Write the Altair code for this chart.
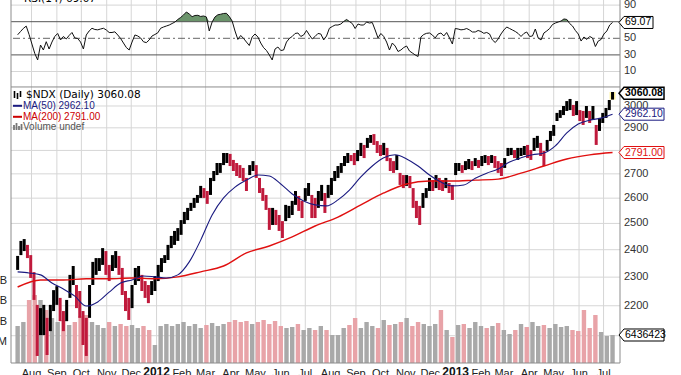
import altair as alt
import numpy as np
import pandas as pd

W, H = 609, 363

# ---------------- data ----------------
start = "2011-07-15"
# price bars: one bar every 4 calendar days (high / low)
price_high = [2377, 2433, 2440, 2418, 2380, 2318, 2203, 2192, 2203, 2159,
              2203, 2254, 2268, 2227, 2182, 2220, 2308, 2340, 2272, 2251,
              2182, 2159, 2272, 2355, 2369, 2369, 2406, 2395, 2344, 2380,
              2395, 2377, 2333, 2251, 2227, 2272, 2333, 2340, 2308, 2286,
              2272, 2286, 2304, 2344, 2369, 2380, 2418, 2452, 2471, 2482,
              2513, 2545, 2561, 2581, 2601, 2613, 2650, 2641, 2629, 2683,
              2712, 2746, 2746, 2789, 2789, 2785, 2759, 2746, 2737, 2725,
              2683, 2737, 2754, 2737, 2683, 2641, 2613, 2561, 2561, 2553,
              2533, 2509, 2573, 2569, 2589, 2629, 2609, 2589, 2641, 2662,
              2613, 2601, 2629, 2654, 2621, 2654, 2683, 2712, 2733, 2746,
              2776, 2789, 2780, 2789, 2802, 2833, 2824, 2855, 2868, 2872,
              2841, 2824, 2833, 2811, 2767, 2754, 2780, 2704, 2695, 2695,
              2691, 2641, 2589, 2569, 2621, 2641, 2683, 2674, 2695, 2683,
              2674, 2683, 2662, 2654, 2746, 2746, 2737, 2754, 2763, 2754,
              2767, 2759, 2776, 2780, 2776, 2780, 2776, 2754, 2746, 2767,
              2811, 2811, 2802, 2811, 2811, 2819, 2824, 2802, 2855, 2864,
              2833, 2798, 2846, 2886, 2913, 2968, 2981, 3000, 3023, 3033,
              3005, 3023, 2981, 2977, 3000, 2977, 3000, 2913, 2945, 2968,
              2991, 3028, 3066]
price_low = [2326, 2380, 2395, 2369, 2297, 2220, 2035, 2102, 2102, 2038,
             2115, 2182, 2203, 2148, 2115, 2148, 2227, 2272, 2192, 2159,
             2070, 2035, 2159, 2272, 2308, 2322, 2344, 2308, 2286, 2322,
             2333, 2308, 2237, 2182, 2152, 2192, 2272, 2286, 2251, 2227,
             2209, 2237, 2251, 2286, 2318, 2351, 2362, 2406, 2418, 2433,
             2456, 2498, 2513, 2549, 2561, 2581, 2601, 2601, 2577, 2613,
             2670, 2695, 2704, 2737, 2746, 2733, 2712, 2691, 2683, 2670,
             2629, 2695, 2712, 2683, 2621, 2589, 2553, 2475, 2494, 2494,
             2471, 2444, 2509, 2521, 2533, 2573, 2549, 2521, 2589, 2609,
             2521, 2521, 2561, 2589, 2541, 2601, 2613, 2670, 2683, 2704,
             2733, 2746, 2754, 2737, 2754, 2776, 2767, 2811, 2833, 2824,
             2789, 2776, 2780, 2754, 2712, 2704, 2716, 2654, 2641, 2650,
             2641, 2561, 2521, 2494, 2561, 2601, 2629, 2629, 2641, 2633,
             2629, 2641, 2621, 2593, 2695, 2712, 2704, 2716, 2720, 2716,
             2733, 2725, 2733, 2746, 2737, 2746, 2725, 2704, 2691, 2725,
             2776, 2780, 2767, 2759, 2776, 2780, 2767, 2759, 2798, 2811,
             2776, 2733, 2798, 2841, 2864, 2931, 2945, 2958, 2977, 2981,
             2954, 2958, 2931, 2913, 2945, 2922, 2936, 2824, 2886, 2922,
             2945, 2981, 3030]
# volume: one bar per week (millions)
volume_m = [898, 995, 1530, 1651, 1530, 1287, 1093, 995, 1044, 923,
            995, 1141, 1165, 995, 923, 850, 995, 898, 947, 898,
            923, 850, 898, 801, 437, 898, 947, 898, 947, 995,
            898, 947, 850, 923, 971, 898, 947, 995, 1044, 995,
            1020, 947, 995, 1044, 947, 1020, 898, 850, 874, 947,
            801, 850, 801, 898, 801, 680, 680, 850, 923, 1093,
            850, 995, 898, 850, 1044, 923, 947, 995, 1093, 898,
            995, 947, 898, 947, 1287, 801, 631, 923, 947, 850,
            995, 898, 850, 898, 971, 801, 704, 801, 947, 874,
            995, 898, 923, 850, 947, 874, 898, 801, 777, 1287,
            850, 1165, 753, 656, 680]
ma50 = [2319, 2315, 2308, 2279, 2258, 2233, 2199, 2213, 2247, 2279,
        2290, 2304, 2301, 2297, 2308, 2355, 2436, 2533, 2601, 2645,
        2674, 2695, 2691, 2658, 2617, 2589, 2573, 2569, 2593, 2633,
        2687, 2733, 2768, 2781, 2763, 2733, 2695, 2666, 2650, 2654,
        2682, 2703, 2720, 2750, 2768, 2781, 2789, 2820, 2877, 2917,
        2935, 2944, 2962.1]  # every 2 weeks
ma200 = [2265, 2290, 2290, 2294, 2294, 2297, 2294, 2301, 2319, 2340,
         2388, 2414, 2448, 2490, 2525, 2573, 2621, 2658, 2670, 2670,
         2674, 2678, 2703, 2733, 2763, 2781, 2791]  # every 4 weeks
rsi14 = [54.2, 58.1, 61.9, 64.7, 54.6, 43.1, 31.7, 23.9, 41.9, 35.9,
         45.9, 37.1, 45.5, 52.3, 55.8, 48.0, 52.2, 49.2, 53.4, 57.0,
         50.4, 49.8, 45.5, 37.1, 54.0, 58.8, 62.1, 60.6, 60.2, 61.2,
         62.1, 60.0, 57.0, 57.0, 57.8, 54.0, 49.8, 44.3, 38.9, 35.9,
         45.5, 54.0, 52.8, 50.4, 45.8, 44.8, 48.0, 52.8, 54.6, 56.6,
         62.1, 63.6, 64.8, 66.0, 67.8, 69.6, 72.7, 75.1, 78.1, 81.7,
         79.3, 76.0, 77.5, 77.7, 76.3, 76.9, 75.7, 58.8, 69.6, 75.7,
         78.3, 79.0, 79.9, 80.1, 76.3, 70.8, 58.8, 48.6, 53.4, 49.8,
         45.5, 41.3, 51.6, 55.2, 51.6, 44.3, 38.7, 35.3, 29.9, 23.9,
         37.1, 39.5, 35.3, 35.9, 45.5, 49.8, 52.2, 55.8, 56.4, 52.2,
         54.0, 59.4, 54.0, 49.2, 52.2, 55.8, 55.2, 48.0, 52.8, 62.1,
         64.2, 66.0, 66.0, 67.2, 70.2, 72.7, 70.2, 67.8, 61.8, 67.2,
         66.0, 66.0, 69.6, 68.4, 69.0, 60.0, 50.4, 55.8, 52.2, 45.5,
         35.9, 44.3, 40.7, 34.1, 35.9, 38.9, 40.7, 34.7, 32.3, 29.9,
         28.1, 51.6, 54.6, 56.0, 56.4, 54.0, 50.4, 55.2, 56.4, 52.8,
         57.0, 50.4, 43.1, 61.8, 61.2, 60.2, 60.6, 61.8, 60.0, 57.6,
         57.6, 59.4, 58.2, 56.0, 57.0, 55.2, 48.0, 44.9, 49.2, 55.2,
         60.0, 63.6, 61.8, 60.0, 58.2, 55.8, 52.2, 55.8, 57.6, 52.2,
         52.8, 61.2, 50.4, 48.0, 56.4, 58.8, 61.8, 66.6, 68.4, 69.6,
         70.8, 73.3, 72.7, 67.8, 64.8, 59.4, 55.2, 46.7, 51.6, 48.6,
         52.2, 50.4, 40.1, 46.7, 48.6, 55.2, 58.8, 66.0, 69.07]  # every 3.5 days

last_close, last_ma50, last_ma200, last_rsi = 3060.08, 2962.10, 2791.00, 69.07
last_volume_text = "6436423"

price_ticks = [2100, 2200, 2300, 2400, 2500, 2600, 2700, 2800, 2900, 3000]
price_hidden = [2100, 2800]          # hidden behind the value tags
rsi_ticks = [10, 30, 50, 90]         # 70 is hidden behind the RSI tag
rsi_grid_ticks = [10, 90]
rsi_bands = [70, 30]
rsi_mid = [50]
volume_ticks = [500, 1000, 1500, 2000]
month_ticks = ([(2011, m) for m in range(8, 13)] + [(2012, m) for m in range(1, 13)]
               + [(2013, m) for m in range(1, 8)])
x_range = [(2011, 7, 13), (2013, 7, 15)]

PRICE_DOMAIN = [2012.9, 3536.7]
RSI_DOMAIN = [-341.2, 96.14]
VOL_DOMAIN = [0, 8814]
MAIN_TOP = 3090

# ---------------- frames ----------------
fmt = "%Y-%m-%dT%H:%M:%S"
d4 = pd.date_range(start, periods=len(price_high), freq="4D")
px = pd.DataFrame({"date": d4.strftime(fmt), "high": price_high, "low": price_low})
mid = (px["high"] + px["low"]) / 2
up4 = (mid.diff().fillna(0) >= 0).to_numpy()
UP, DOWN = "#000000", "#c01a3c"
px["pcol"] = np.where(up4, UP, DOWN)

weeks = pd.date_range(start, periods=len(volume_m), freq="7D")
vol = pd.DataFrame({"date": weeks.strftime(fmt), "vol": volume_m})
near = np.clip(np.round(np.arange(len(volume_m)) * 7 / 4).astype(int), 0, len(up4) - 1)
vol["vcol"] = np.where(up4[near], "#a9a9a9", "#e8a3a8")

ma50_df = pd.DataFrame({"date": weeks[::2].strftime(fmt), "v": ma50})
ma200_df = pd.DataFrame({"date": weeks[::4].strftime(fmt), "v": ma200})
rsi_dates = pd.date_range(start, periods=len(rsi14), freq="84h")
rsi_df = pd.DataFrame({"date": rsi_dates.strftime(fmt), "v": rsi14})
rsi_df["top"] = np.maximum(rsi_df["v"], 70)
rsi_df["base"] = 70
one = pd.DataFrame({"k": [0]})

month_df = pd.DataFrame({
    "date": [f"{y}-{m:02d}-01T00:00:00" for y, m in month_ticks],
    "lab": [str(y) if m == 1 else pd.Timestamp(y, m, 1).strftime("%b") for y, m in month_ticks],
    "year": [m == 1 for y, m in month_ticks],
})
price_lab_df = pd.DataFrame({"v": [t for t in price_ticks if t not in price_hidden]})
price_lab_df["lab"] = price_lab_df["v"].astype(str)
rsi_lab_df = pd.DataFrame({"v": rsi_ticks, "lab": [str(t) for t in rsi_ticks]})
vol_lab_df = pd.DataFrame({"v": volume_ticks,
                           "lab": [f"{t}M" if t < 1000 else f"{t / 1000:.1f}B" for t in volume_ticks]})

FONT = "Liberation Sans"
GRID = "#d6d6d6"
BORDER = "#8c8c8c"
NAVY, RED = "#1a1a80", "#e01010"

xs = alt.Scale(domain=[alt.DateTime(year=a, month=b, date=c) for a, b, c in x_range], nice=False)
ps = alt.Scale(type="log", domain=PRICE_DOMAIN, nice=False)
rs = alt.Scale(domain=RSI_DOMAIN, nice=False, zero=False)
vs = alt.Scale(domain=VOL_DOMAIN, nice=False)

X = alt.X("date:T", scale=xs, axis=None)
YP = alt.Y("v:Q", scale=ps, axis=None)
YR = alt.Y("v:Q", scale=rs, axis=None)
YV = alt.Y("v:Q", scale=vs, axis=None)

# ---------------- grid ----------------
month_grid = alt.Chart(month_df).mark_rule(color=GRID).encode(
    x=X, y=alt.value(0), y2=alt.value(H))
price_grid = alt.Chart(pd.DataFrame({"v": price_ticks})).mark_rule(color=GRID).encode(y=YP)
rsi_grid = alt.Chart(pd.DataFrame({"v": rsi_grid_ticks})).mark_rule(color=GRID).encode(y=YR)

# ---------------- volume ----------------
vol_bars = alt.Chart(vol).mark_bar(width=4.4).encode(
    x=X, y=alt.Y("vol:Q", scale=vs, axis=None), color=alt.Color("vcol:N", scale=None))

# ---------------- RSI ----------------
rsi_fill = alt.Chart(rsi_df).mark_area(color="#6b946b").encode(
    x=X, y=alt.Y("top:Q", scale=rs, axis=None), y2="base:Q")
rsi_rules = alt.Chart(pd.DataFrame({"v": rsi_bands})).mark_rule(color="#555", strokeWidth=1).encode(y=YR)
rsi_mid_rule = alt.Chart(pd.DataFrame({"v": rsi_mid})).mark_rule(
    color="#666", strokeWidth=1, strokeDash=[7, 3, 2, 3]).encode(y=YR)
rsi_line = alt.Chart(rsi_df).mark_line(color="#111", strokeWidth=1).encode(x=X, y=YR)

# ---------------- price ----------------
last_bar = alt.Chart(px.tail(1)).mark_bar(width=6, color="#fff3a0").encode(
    x=X, y=alt.Y("high:Q", scale=ps, axis=None), y2="low:Q")
bars = alt.Chart(px).mark_bar(width=3.0).encode(
    x=X, y=alt.Y("high:Q", scale=ps, axis=None), y2="low:Q", color=alt.Color("pcol:N", scale=None))
line200 = alt.Chart(ma200_df).mark_line(color=RED, strokeWidth=1.4, interpolate="monotone").encode(x=X, y=YP)
line50 = alt.Chart(ma50_df).mark_line(color=NAVY, strokeWidth=1.1, interpolate="monotone").encode(x=X, y=YP)

# ---------------- frame lines ----------------
top_rule = alt.Chart(pd.DataFrame({"v": [MAIN_TOP]})).mark_rule(color=BORDER).encode(y=YP)
left_border = alt.Chart(one).mark_rule(color=BORDER).encode(x=alt.value(0), y=alt.value(0), y2=alt.value(H))
right_border = alt.Chart(one).mark_rule(color=BORDER).encode(x=alt.value(W), y=alt.value(0), y2=alt.value(H))
bottom_border = alt.Chart(one).mark_rule(color=BORDER).encode(x=alt.value(0), x2=alt.value(W), y=alt.value(H))

# ---------------- tick labels ----------------
month_labels = alt.Chart(month_df[~month_df["year"]]).mark_text(
    baseline="top", align="center", font=FONT, fontSize=11, color="#222").encode(
    x=X, y=alt.value(H + 5), text="lab:N")
year_labels = alt.Chart(month_df[month_df["year"]]).mark_text(
    baseline="top", align="center", font=FONT, fontSize=12, fontWeight="bold", color="#111").encode(
    x=X, y=alt.value(H + 4), text="lab:N")
price_labels = alt.Chart(price_lab_df).mark_text(
    align="left", baseline="middle", font=FONT, fontSize=11, color="#333").encode(
    x=alt.value(W + 4), y=YP, text="lab:N")
rsi_labels = alt.Chart(rsi_lab_df).mark_text(
    align="left", baseline="middle", font=FONT, fontSize=11, color="#333").encode(
    x=alt.value(W + 4), y=YR, text="lab:N")
vol_labels = alt.Chart(vol_lab_df).mark_text(
    align="right", baseline="middle", font=FONT, fontSize=11, color="#222").encode(
    x=alt.value(-4), y=YV, text="lab:N")


def tag(value, y, w, h, color, text, bold=False, sw=1.0, fs=10.5):
    s = 2.0 / w
    hh = h / 2 * s
    ax = -1 + 5 * s
    path = f"M-1,0L{ax:.3f},{-hh:.3f}L1,{-hh:.3f}L1,{hh:.3f}L{ax:.3f},{hh:.3f}Z"
    df = pd.DataFrame({"v": [value]})
    box = alt.Chart(df).mark_point(shape=path, size=w * w, filled=True, fill="white",
                                   stroke=color, strokeWidth=sw, opacity=1).encode(
        x=alt.value(W - 1 + w / 2), y=y)
    txt = alt.Chart(df).mark_text(align="left", baseline="middle", font=FONT, fontSize=fs,
                                  fontWeight="bold" if bold else "normal", color=color).encode(
        x=alt.value(W + 5), y=y, text=alt.value(text))
    return [box, txt]


tags = (tag(volume_m[-1], YV, 45, 12, "black", last_volume_text)
        + tag(last_ma200, YP, 45, 12, RED, "2791.00")
        + tag(last_ma50, YP, 45, 12, NAVY, "2962.10")
        + tag(last_close, YP, 45, 12, "black", "3060.08", bold=True, sw=1.5)
        + tag(last_rsi, YR, 34, 12, "black", "69.07"))


# ---------------- legend / titles ----------------
def label(text, x, y, color="black", font=FONT, size=10.5, baseline="middle"):
    return alt.Chart(one).mark_text(align="left", baseline=baseline, font=font, fontSize=size,
                                    color=color).encode(
        x=alt.value(x), y=alt.value(y), text=alt.value(text))


def glyph(x, y1, y2, color, width):
    return alt.Chart(one).mark_rule(color=color, strokeWidth=width).encode(
        x=alt.value(x), y=alt.value(y1), y2=alt.value(y2))


def dash(y, color):
    return alt.Chart(one).mark_rule(color=color, strokeWidth=2).encode(
        x=alt.value(2), x2=alt.value(11), y=alt.value(y))


legend = [
    label("RSI(14) 69.07", 13, 2, font="DejaVu Sans", baseline="alphabetic"),
    glyph(3.5, 91, 98, "black", 1.6), glyph(6.5, 93, 99, "black", 1.6), glyph(9.5, 91, 97, "black", 1.6),
    label("$NDX (Daily) 3060.08", 15, 94.7, font="DejaVu Sans"),
    dash(105.8, NAVY), label("MA(50) 2962.10", 12, 105.8, color=NAVY, size=10),
    dash(116.8, "#cc0000"), label("MA(200) 2791.00", 12, 116.8, color="#cc0000", size=10),
    glyph(3, 125, 130, "#777", 1.8), glyph(5.5, 123, 130, "#777", 1.8),
    glyph(8, 126, 130, "#777", 1.8), glyph(10.5, 124, 130, "#777", 1.8),
    label("Volume undef", 12, 126.7, color="#555", size=10),
]

layers = ([month_grid, price_grid, rsi_grid, vol_bars,
           rsi_fill, rsi_rules, rsi_mid_rule, rsi_line,
           last_bar, bars, line200, line50,
           top_rule, left_border, right_border, bottom_border,
           month_labels, year_labels, price_labels, rsi_labels, vol_labels]
          + tags + legend)

chart = alt.layer(*layers).resolve_scale(y="independent").properties(
    width=W, height=H,
    autosize=alt.AutoSizeParams(type="none"),
    padding={"left": 11, "top": 0, "right": 61, "bottom": 12},
    background="white",
).configure_view(stroke=None)

chart.save("out.html", embed_options={"renderer": "svg", "actions": False})
